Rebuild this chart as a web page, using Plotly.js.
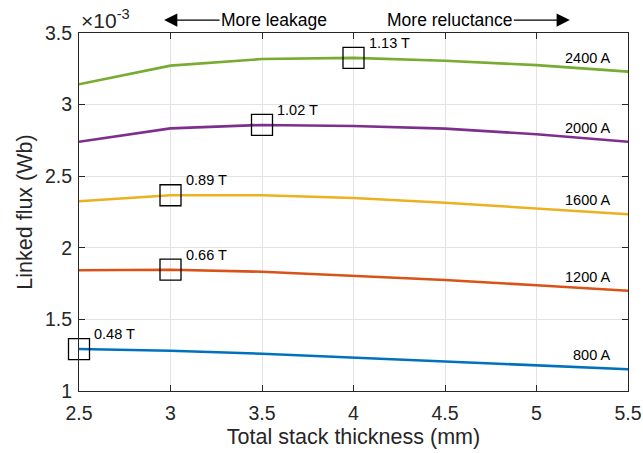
<!DOCTYPE html>
<html><head><meta charset="utf-8">
<script src="https://cdn.plot.ly/plotly-3.0.1.min.js"></script>
<style>html,body{margin:0;padding:0;background:#fff}#chart{width:643px;height:453px}</style>
</head><body><div id="chart"></div>
<script>
// Data (flux in units of 1e-3 Wb)
const thickness = [2.5, 3, 3.5, 4, 4.5, 5, 5.5];
const flux800  = [1.293, 1.281, 1.260, 1.232, 1.205, 1.180, 1.152];
const flux1200 = [1.843, 1.847, 1.833, 1.803, 1.775, 1.738, 1.700];
const flux1600 = [2.325, 2.367, 2.367, 2.348, 2.315, 2.276, 2.234];
const flux2000 = [2.741, 2.834, 2.858, 2.851, 2.832, 2.793, 2.741];
const flux2400 = [3.142, 3.272, 3.318, 3.326, 3.306, 3.276, 3.230];
const seriesNames = ['800 A', '1200 A', '1600 A', '2000 A', '2400 A'];
const seriesData = [flux800, flux1200, flux1600, flux2000, flux2400];
const seriesColors = ['#0072BD', '#D95319', '#EDB120', '#7E2F8E', '#77AC30'];
// Peak-flux markers (index into thickness) and labels
const peakIndex = [0, 1, 1, 2, 3];
const peakLabels = ['0.48 T', '0.66 T', '0.89 T', '1.02 T', '1.13 T'];
const xTicks = [2.5, 3, 3.5, 4, 4.5, 5, 5.5];
const yTicks = [1, 1.5, 2, 2.5, 3, 3.5];

const FONT = 'Liberation Sans, Arial, Helvetica, sans-serif';
const TXT = '#262626';

const traces = seriesData.map((d, i) => ({
  x: thickness, y: d, type: 'scatter', mode: 'lines',
  line: {color: seriesColors[i], width: 2.6}, name: seriesNames[i],
  hoverinfo: 'skip'
}));
traces.push({
  x: peakIndex.map(k => thickness[k]),
  y: peakIndex.map((k, i) => seriesData[i][k]),
  type: 'scatter', mode: 'markers', cliponaxis: false,
  marker: {symbol: 'square-open', size: 21, color: '#000', line: {width: 1.3, color: '#000'}},
  hoverinfo: 'skip'
});

const annotations = [];
peakIndex.forEach((k, i) => {
  annotations.push({x: thickness[k], y: seriesData[i][k], xref: 'x', yref: 'y',
    text: peakLabels[i], showarrow: false, xanchor: 'left', yanchor: 'middle',
    xshift: 13, yshift: 15, font: {family: FONT, size: 14.5, color: '#000'}});
});
seriesData.forEach((d, i) => {
  annotations.push({x: thickness[thickness.length - 1], y: d[d.length - 1], xref: 'x', yref: 'y',
    text: seriesNames[i], showarrow: false, xanchor: 'right', yanchor: 'middle',
    xshift: -16, yshift: 14, font: {family: FONT, size: 14.5, color: '#000'}});
});
annotations.push({x: 0.0, y: 1.04, xref: 'paper', yref: 'paper', text: '×10<sup>-3</sup>',
  showarrow: false, xanchor: 'left', yanchor: 'middle', font: {family: FONT, size: 21, color: TXT}});
annotations.push({x: 0.155, y: 1.036, xref: 'paper', yref: 'paper', text: 'More leakage',
  showarrow: true, axref: 'pixel', ayref: 'pixel', ax: 110, ay: 0,
  arrowhead: 2, arrowsize: 2.2, arrowwidth: 1.2, arrowcolor: '#000',
  font: {family: FONT, size: 17.5, color: '#000'}});
annotations.push({x: 0.894, y: 1.036, xref: 'paper', yref: 'paper', text: 'More reluctance',
  showarrow: true, axref: 'pixel', ayref: 'pixel', ax: -120, ay: 0,
  arrowhead: 2, arrowsize: 2.2, arrowwidth: 1.2, arrowcolor: '#000',
  font: {family: FONT, size: 17.5, color: '#000'}});

const axisCommon = {
  showline: true, linecolor: TXT, linewidth: 1, mirror: 'ticks',
  ticks: 'inside', ticklen: 6, tickcolor: TXT, tickwidth: 1,
  showgrid: true, gridcolor: '#e3e3e3', gridwidth: 1, zeroline: false,
  tickfont: {family: FONT, size: 19.5, color: TXT}
};

const layout = {
  width: 643, height: 453,
  margin: {l: 79, r: 15, t: 33, b: 62},
  paper_bgcolor: '#fff', plot_bgcolor: '#fff',
  showlegend: false,
  xaxis: Object.assign({}, axisCommon, {
    range: [2.5, 5.5], tickvals: xTicks, ticktext: xTicks.map(String),
    ticklabelstandoff: 5,
    title: {text: 'Total stack thickness (mm)', font: {family: FONT, size: 21.5, color: TXT}, standoff: 5}
  }),
  yaxis: Object.assign({}, axisCommon, {
    range: [1, 3.5], tickvals: yTicks, ticktext: yTicks.map(String),
    ticklabelstandoff: 2,
    title: {text: 'Linked flux (Wb)', font: {family: FONT, size: 21.5, color: TXT}, standoff: 6}
  }),
  annotations: annotations
};

Plotly.newPlot('chart', traces, layout, {staticPlot: true, displayModeBar: false});
</script></body></html>
